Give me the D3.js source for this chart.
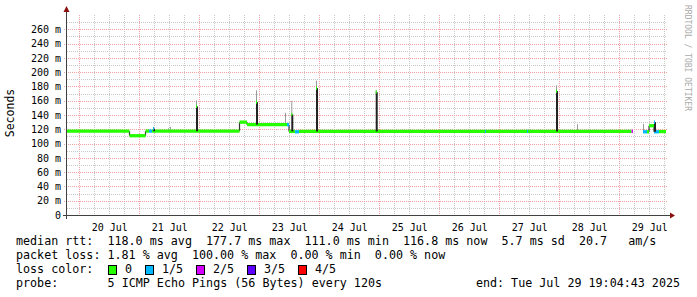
<!DOCTYPE html>
<html><head><meta charset="utf-8">
<script src="https://cdn.jsdelivr.net/npm/d3@7"></script>
<style>
html,body{margin:0;padding:0;background:#fff;}
svg{display:block;}
text{font-family:"DejaVu Sans Mono",monospace;}
</style></head><body>
<svg id="c" width="697" height="297"></svg>
<script>
// ---------------- data ----------------
const startTime = "2025-07-19 19:04:43";
const endTime   = "2025-07-29 19:04:43";
const yMax = 280;
const yTickValues = [0,20,40,60,80,100,120,140,160,180,200,220,240,260];
const yTickLabels = ["0","20 m","40 m","60 m","80 m","100 m","120 m","140 m","160 m","180 m","200 m","220 m","240 m","260 m"];
const dayLabels = ["20 Jul","21 Jul","22 Jul","23 Jul","24 Jul","25 Jul","26 Jul","27 Jul","28 Jul","29 Jul"];

// median rtt (ms) as level segments, with loss class (0..4 of 5 pings)
const segStart  = ["2025-07-19 19:05","2025-07-20 20:05","2025-07-21 02:29","2025-07-21 03:53","2025-07-21 05:05","2025-07-22 16:05","2025-07-22 19:05","2025-07-23 11:05","2025-07-23 11:53","2025-07-23 14:17","2025-07-23 15:53","2025-07-29 04:53","2025-07-29 09:29","2025-07-29 11:05","2025-07-29 11:53","2025-07-29 13:53","2025-07-29 15:53"];
const segEnd    = ["2025-07-20 20:05","2025-07-21 02:29","2025-07-21 03:53","2025-07-21 05:05","2025-07-22 16:05","2025-07-22 19:05","2025-07-23 11:05","2025-07-23 11:53","2025-07-23 14:17","2025-07-23 15:53","2025-07-29 04:53","2025-07-29 05:29","2025-07-29 11:05","2025-07-29 11:53","2025-07-29 13:53","2025-07-29 15:53","2025-07-29 18:41"];
const segMedian = [117.3,111.0,117.5,117.5,117.3,130.0,126.5,126.5,117.0,116.5,117.0,117.0,116.5,116.5,125.0,116.5,116.8];
const segLoss   = [0,0,0,1,0,0,0,1,0,1,0,2,1,0,0,1,0];

// smoke spikes: time, median of that step, max ping
const spikeTime   = ["2025-07-21 05:29","2025-07-21 22:41","2025-07-22 22:41","2025-07-23 12:48","2025-07-23 22:41","2025-07-24 22:34","2025-07-27 22:41","2025-07-29 13:53"];
const spikeMedian = [121.0,152.0,158.0,140.8,177.7,172.0,173.5,130.0];
const spikeMax    = [122.0,160.5,174.5,160.0,188.0,175.0,181.4,130.5];
const spikeLoss   = [1,0,0,0,0,0,0,1];

// faint smoke (gray only)
const wispTime = ["2025-07-21 11:29","2025-07-21 12:17","2025-07-23 10:24","2025-07-28 06:53","2025-07-29 09:17"];
const wispMax  = [121.4,123.3,143.0,127.0,127.5];

// single-step loss marks
const markTime = ["2025-07-26 18:17","2025-07-27 11:05"];
const markLoss = [1,1];

const lossLabels = ["0","1/5","2/5","3/5","4/5"];
const lossColors = ["#26ff00","#00b8ff","#d400ff","#5e00ff","#ff0000"];

const legendRows = [
  "median rtt:  118.0 ms avg  177.7 ms max  111.0 ms min  116.8 ms now  5.7 ms sd  20.7   am/s",
  "packet loss: 1.81 % avg  100.00 % max  0.00 % min  0.00 % now"
];
const probeText = "5 ICMP Echo Pings (56 Bytes) every 120s";
const endText = "end: Tue Jul 29 19:04:43 2025";

// ---------------- drawing ----------------
const parse = s => d3.timeParse("%Y-%m-%d %H:%M:%S")(s.length === 16 ? s + ":00" : s);
const t0 = parse(startTime), t1 = parse(endTime);
const L = 67, R = 667, T = 15, B = 215;
const x = d3.scaleTime().domain([t0, t1]).range([L, R]);
const y = d3.scaleLinear().domain([0, yMax]).range([B, T]);
const svg = d3.select("#c");
svg.append("rect").attr("width",697).attr("height",297).attr("fill","#fff");

const minorCol = "#c8c8c8", majorCol = "#f0a0a0";
// vertical grid
const g = svg.append("g");
d3.timeHour.every(6).range(t0, t1).forEach(d => {
  const isMid = d.getHours() === 0;
  g.append("line").attr("x1", Math.round(x(d)) + 0.5).attr("x2", Math.round(x(d)) + 0.5)
   .attr("y1", T).attr("y2", B + 2)
   .attr("stroke", isMid ? majorCol : minorCol).attr("stroke-dasharray","1,1");
});
// horizontal grid
d3.range(10, yMax, 10).forEach(v => {
  const isMaj = v % 20 === 0;
  g.append("line").attr("x1", isMaj ? L - 3 : L).attr("x2", R)
   .attr("y1", Math.round(y(v)) + 0.5).attr("y2", Math.round(y(v)) + 0.5)
   .attr("stroke", isMaj ? majorCol : minorCol).attr("stroke-dasharray","1,1");
});

// y labels
const yAxis = d3.axisLeft(y).tickValues(yTickValues).tickSize(0).tickPadding(6)
  .tickFormat((d,i) => yTickLabels[i]);
const ya = svg.append("g").attr("transform", `translate(${L},0)`).call(yAxis);
ya.select(".domain").remove();
ya.selectAll("text").attr("font-family","DejaVu Sans Mono").attr("font-size","10px").attr("fill","#000");

// x labels at noon
const noons = d3.timeDay.range(d3.timeDay.ceil(t0), t1).map(d => d3.timeHour.offset(d, 12));
const xAxis = d3.axisBottom(x).tickValues(noons).tickSize(0).tickPadding(9)
  .tickFormat((d,i) => dayLabels[i]);
const xa = svg.append("g").attr("transform", `translate(0,${B})`).call(xAxis);
xa.select(".domain").remove();
xa.selectAll("text").attr("font-family","DejaVu Sans Mono").attr("font-size","10px").attr("fill","#000");

// data
const segs = segStart.map((s,i) => ({s: parse(s), e: parse(segEnd[i]), m: segMedian[i], l: segLoss[i]}));
const levelAt = t => { const sg = segs.find(d => t >= d.s && t < d.e); return sg ? sg.m : 117; };
const dg = svg.append("g");
// transitions (smoke between steps)
segs.forEach((d,i) => {
  if (i > 0 && +segs[i-1].e === +d.s && Math.abs(segs[i-1].m - d.m) > 1.5) {
    dg.append("line").attr("x1", x(d.s)).attr("x2", x(d.s))
      .attr("y1", y(segs[i-1].m)).attr("y2", y(d.m)).attr("stroke","#333").attr("stroke-width",1.2);
  }
});
// wisps
wispTime.forEach((s,i) => {
  const t = parse(s), xx = Math.round(x(t)) + 0.5;
  dg.append("line").attr("x1", xx).attr("x2", xx).attr("y1", y(levelAt(t))).attr("y2", y(wispMax[i]))
    .attr("stroke","#9a9a9a").attr("stroke-width",1);
});
// median bands
segs.forEach(d => {
  dg.append("line").attr("x1", x(d.s)).attr("x2", x(d.e)).attr("y1", y(d.m)).attr("y2", y(d.m))
    .attr("stroke", lossColors[d.l]).attr("stroke-width", 3.3);
});
// loss marks
const step = 24; // minutes per pixel step
markTime.forEach((s,i) => {
  const t = parse(s);
  dg.append("line").attr("x1", x(t)).attr("x2", x(d3.timeMinute.offset(t, step))).attr("y1", y(levelAt(t))).attr("y2", y(levelAt(t)))
    .attr("stroke", lossColors[markLoss[i]]).attr("stroke-width", 3.3);
});
// spikes
spikeTime.forEach((s,i) => {
  const t = parse(s);
  const xa0 = x(t), xa1 = x(d3.timeMinute.offset(t, step)), xa2 = x(d3.timeMinute.offset(t, 2*step));
  const base = levelAt(t);
  dg.append("rect").attr("x", xa0).attr("width", xa2 - xa0)
    .attr("y", y(spikeMedian[i])).attr("height", Math.max(0, y(base) - y(spikeMedian[i])))
    .attr("fill","#222");
  dg.append("line").attr("x1", (xa0+xa1)/2).attr("x2", (xa0+xa1)/2).attr("y1", y(spikeMedian[i])).attr("y2", y(spikeMax[i]))
    .attr("stroke","#999").attr("stroke-width",1);
  dg.append("line").attr("x1", xa0).attr("x2", xa1).attr("y1", y(spikeMedian[i])).attr("y2", y(spikeMedian[i]))
    .attr("stroke", lossColors[spikeLoss[i]]).attr("stroke-width", 3.3);
});

// axes lines + arrows
const axCol = "#404040", arCol = "#8b1010";
svg.append("line").attr("x1", L - 0.5).attr("x2", L - 0.5).attr("y1", 10).attr("y2", B + 4).attr("stroke", axCol);
svg.append("line").attr("x1", L - 4).attr("x2", R + 3).attr("y1", B + 0.5).attr("y2", B + 0.5).attr("stroke", axCol);
svg.append("path").attr("d", d3.line()([[L-3.5, 12],[L-0.5, 6],[L+2.5, 12]]) + "Z").attr("fill", arCol);
svg.append("path").attr("d", d3.line()([[R+3, B-2.5],[R+8, B+0.5],[R+3, B+3.5]]) + "Z").attr("fill", arCol);

// y title
svg.append("text").attr("transform","translate(14,113) rotate(-90)").attr("text-anchor","middle")
  .attr("font-size","11.5px").attr("fill","#000").text("Seconds");
// watermark
svg.append("text").attr("transform","translate(685,5) rotate(90)").attr("font-size","8px").attr("fill","#aaa")
  .text("RRDTOOL / TOBI OETIKER");

// legend
const lg = svg.append("g").attr("font-size","11.7px").attr("fill","#000");
legendRows.forEach((r,i) => {
  lg.append("text").attr("x",16).attr("y",245 + i*14).attr("xml:space","preserve").style("white-space","pre").text(r);
});
lg.append("text").attr("x",16).attr("y",273).text("loss color:");
const boxX = [108,145,196,247,298];
lossLabels.forEach((lab,i) => {
  lg.append("rect").attr("x", boxX[i] + 0.5).attr("y", 265.5).attr("width", 8).attr("height", 9)
    .attr("fill", lossColors[i]).attr("stroke","#000");
  lg.append("text").attr("x", boxX[i] + 17).attr("y", 273).text(lab);
});
lg.append("text").attr("x",16).attr("y",287).text("probe:");
lg.append("text").attr("x",107.6).attr("y",287).text(probeText);
lg.append("text").attr("x",680).attr("y",287).attr("text-anchor","end").text(endText);
</script>
</body></html>
